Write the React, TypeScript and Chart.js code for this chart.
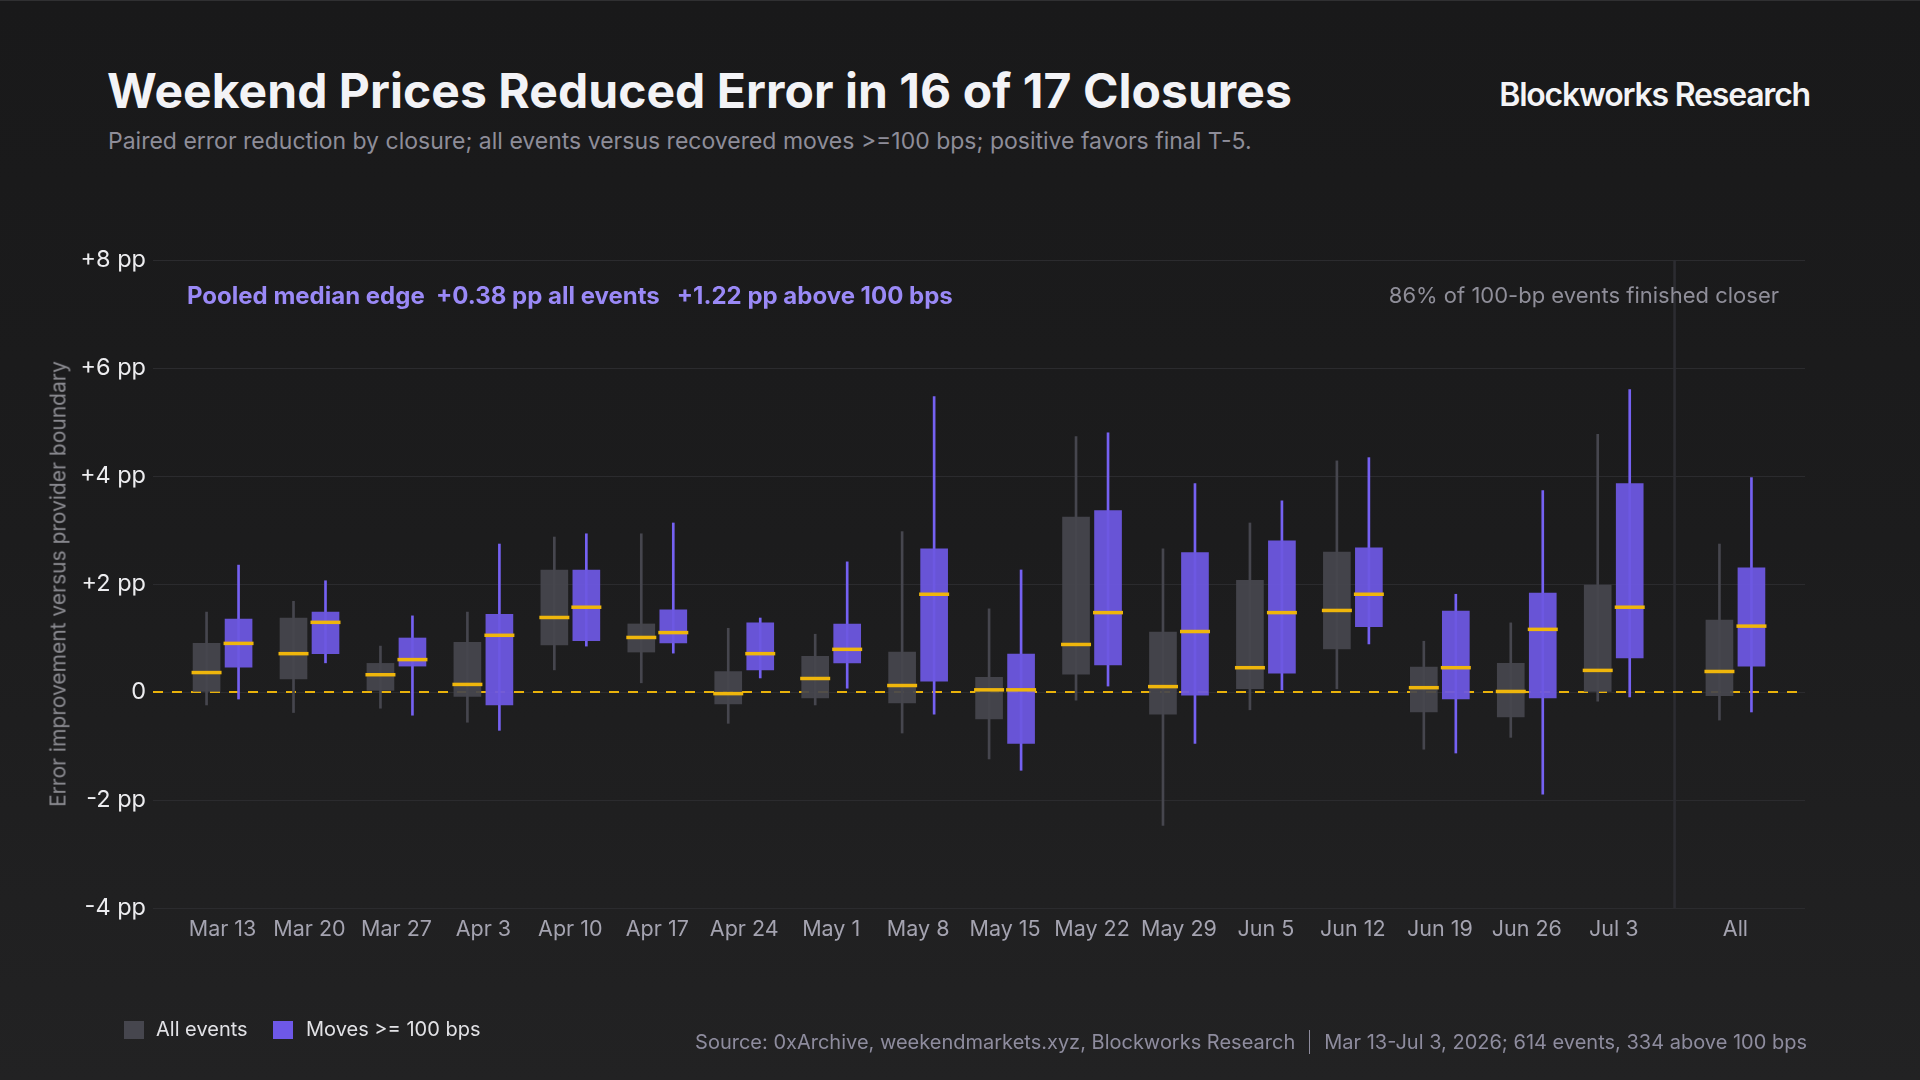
import React, { useEffect, useRef } from 'react';
import { Chart, registerables } from 'chart.js';

Chart.register(...registerables);

// closures (17 weekly) plus the pooled "All" column
const categories = [
  'Mar 13', 'Mar 20', 'Mar 27', 'Apr 3', 'Apr 10', 'Apr 17', 'Apr 24', 'May 1', 'May 8',
  'May 15', 'May 22', 'May 29', 'Jun 5', 'Jun 12', 'Jun 19', 'Jun 26', 'Jul 3', 'All',
];

// All events (pp)
const allLow = [-0.24, -0.38, -0.30, -0.56, 0.41, 0.17, -0.58, -0.24, -0.76, -1.24, -0.15, -2.47, -0.33, 0.06, -1.06, -0.84, -0.17, -0.52];
const allQ1 = [0.0, 0.24, 0.03, -0.08, 0.87, 0.74, -0.22, -0.11, -0.20, -0.50, 0.33, -0.41, 0.06, 0.80, -0.37, -0.46, 0.0, -0.07];
const allMedian = [0.36, 0.71, 0.32, 0.14, 1.38, 1.01, -0.03, 0.25, 0.12, 0.04, 0.88, 0.10, 0.45, 1.51, 0.08, 0.01, 0.40, 0.38];
const allQ3 = [0.90, 1.37, 0.53, 0.92, 2.26, 1.26, 0.38, 0.66, 0.74, 0.27, 3.24, 1.11, 2.07, 2.59, 0.46, 0.53, 1.98, 1.33];
const allHigh = [1.48, 1.68, 0.85, 1.48, 2.87, 2.93, 1.18, 1.07, 2.97, 1.54, 4.73, 2.65, 3.13, 4.28, 0.94, 1.28, 4.77, 2.74];

// Moves >= 100 bps (pp)
const bigLow = [-0.13, 0.54, -0.43, -0.71, 0.85, 0.72, 0.26, 0.07, -0.41, -1.45, 0.11, -0.95, 0.04, 0.89, -1.13, -1.89, -0.09, -0.37];
const bigQ1 = [0.46, 0.71, 0.48, -0.24, 0.95, 0.91, 0.41, 0.54, 0.20, -0.95, 0.50, -0.06, 0.35, 1.21, -0.13, -0.11, 0.63, 0.48];
const bigMedian = [0.90, 1.29, 0.60, 1.05, 1.57, 1.10, 0.71, 0.79, 1.81, 0.04, 1.47, 1.12, 1.47, 1.81, 0.45, 1.16, 1.57, 1.22];
const bigQ3 = [1.35, 1.48, 1.00, 1.44, 2.26, 1.52, 1.28, 1.26, 2.65, 0.70, 3.36, 2.58, 2.80, 2.67, 1.50, 1.83, 3.86, 2.30];
const bigHigh = [2.35, 2.06, 1.41, 2.74, 2.93, 3.13, 1.37, 2.41, 5.47, 2.26, 4.80, 3.86, 3.54, 4.34, 1.81, 3.73, 5.60, 3.97];

const yTicks = [-4, -2, 0, 2, 4, 6, 8];

const X_MIN = -0.8;
const X_MAX = 18.2;
const ALL_POS = 17.4;
const SEP_POS = 16.7;
const PAIR_OFFSET = 0.184;

const positions = categories.map((_, i) => (i < 17 ? i : ALL_POS));

const GRAY_BOX = 'rgba(70, 70, 78, 0.93)';
const GRAY_WHISKER = '#46464e';
const PURPLE_BOX = 'rgba(109, 87, 224, 0.95)';
const PURPLE_WHISKER = '#7561f2';
const MEDIAN = '#efb60c';
const FONT = 'Inter, "Noto Sans", sans-serif';

const fmtTick = (v: number) => (v === 0 ? '0' : v > 0 ? `+${v} pp` : `${v} pp`);

const BoxChart: React.FC = () => {
  const chartRef = useRef<HTMLCanvasElement>(null);
  const chartInstance = useRef<Chart | null>(null);

  useEffect(() => {
    if (!chartRef.current) return;
    if (chartInstance.current) chartInstance.current.destroy();

    const ctx = chartRef.current.getContext('2d');
    if (!ctx) return;

    const at = (dx: number) => positions.map((p) => p + dx);
    const xa = at(-PAIR_OFFSET);
    const xb = at(PAIR_OFFSET);

    const barBase = { type: 'bar' as const, grouped: false, borderWidth: 0, borderSkipped: false };

    chartInstance.current = new Chart(ctx, {
      type: 'bar',
      data: {
        datasets: [
          {
            ...barBase,
            label: 'sep',
            data: [{ x: SEP_POS, y: [-4, 8] }] as any,
            barThickness: 2,
            backgroundColor: '#2c2c31',
            order: 12,
          },
          {
            type: 'line',
            label: 'zero',
            data: [{ x: X_MIN, y: 0 }, { x: X_MAX, y: 0 }],
            borderColor: '#e9b20b',
            borderWidth: 2,
            borderDash: [10, 9],
            pointRadius: 0,
            order: 10,
          },
          {
            ...barBase,
            label: 'allWhisker',
            data: xa.map((x, i) => ({ x, y: [allLow[i], allHigh[i]] })) as any,
            barThickness: 2,
            backgroundColor: GRAY_WHISKER,
            order: 6,
          },
          {
            ...barBase,
            label: 'bigWhisker',
            data: xb.map((x, i) => ({ x, y: [bigLow[i], bigHigh[i]] })) as any,
            barThickness: 2,
            backgroundColor: PURPLE_WHISKER,
            order: 6,
          },
          {
            ...barBase,
            label: 'All events',
            data: xa.map((x, i) => ({ x, y: [allQ1[i], allQ3[i]] })) as any,
            barThickness: 27,
            backgroundColor: GRAY_BOX,
            order: 4,
          },
          {
            ...barBase,
            label: 'Moves >= 100 bps',
            data: xb.map((x, i) => ({ x, y: [bigQ1[i], bigQ3[i]] })) as any,
            barThickness: 27,
            backgroundColor: PURPLE_BOX,
            order: 4,
          },
          {
            type: 'scatter',
            label: 'allMedian',
            data: xa.map((x, i) => ({ x, y: allMedian[i] })),
            pointStyle: 'line',
            pointRadius: 15,
            pointBorderWidth: 3.5,
            pointBorderColor: MEDIAN,
            order: 1,
          },
          {
            type: 'scatter',
            label: 'bigMedian',
            data: xb.map((x, i) => ({ x, y: bigMedian[i] })),
            pointStyle: 'line',
            pointRadius: 15,
            pointBorderWidth: 3.5,
            pointBorderColor: MEDIAN,
            order: 1,
          },
        ] as any,
      },
      options: {
        responsive: true,
        maintainAspectRatio: false,
        animation: false,
        events: [],
        layout: { padding: { top: 259, right: 115, bottom: 113, left: 0 } },
        plugins: {
          legend: { display: false },
          tooltip: { enabled: false },
          title: { display: false },
        },
        scales: {
          x: {
            type: 'linear',
            min: X_MIN,
            max: X_MAX,
            offset: false,
            grid: { display: false },
            border: { display: false },
            afterBuildTicks: (scale: any) => {
              scale.ticks = positions.map((v) => ({ value: v }));
            },
            afterFit: (scale: any) => {
              scale.height = 60;
            },
            ticks: {
              autoSkip: false,
              maxRotation: 0,
              padding: 1,
              color: '#a4a3b0',
              font: { family: FONT, size: 21.5 },
              callback: (value: any) => {
                const i = positions.indexOf(Number(value));
                return i >= 0 ? categories[i] : '';
              },
            },
          },
          y: {
            type: 'linear',
            min: -4,
            max: 8,
            afterBuildTicks: (scale: any) => {
              scale.ticks = yTicks.map((v) => ({ value: v }));
            },
            afterFit: (scale: any) => {
              scale.width = 153;
            },
            grid: { color: '#2b2b2e', lineWidth: 1, drawTicks: false },
            border: { display: false },
            ticks: {
              padding: 7,
              color: '#ececef',
              font: { family: FONT, size: 23.5 },
              callback: (value: any) => fmtTick(Number(value)),
            },
          },
        },
      },
    });

    return () => {
      if (chartInstance.current) {
        chartInstance.current.destroy();
        chartInstance.current = null;
      }
    };
  }, []);

  return (
    <div style={{ position: 'absolute', left: 0, top: 0, width: 1920, height: 1080 }}>
      <canvas ref={chartRef} />
    </div>
  );
};

const App: React.FC = () => {
  const abs = (extra: React.CSSProperties): React.CSSProperties => ({
    position: 'absolute',
    whiteSpace: 'pre',
    fontFamily: FONT,
    ...extra,
  });

  return (
    <div
      style={{
        position: 'fixed',
        left: 0,
        top: 0,
        width: 1920,
        height: 1080,
        overflow: 'hidden',
        background: 'linear-gradient(180deg, #19191a 0%, #1c1c1d 50%, #222223 100%)',
        borderTop: '1px solid #303032',
        boxSizing: 'border-box',
      }}
    >
      <div style={abs({ left: 107, top: 60, fontSize: 48, fontWeight: 700, color: '#f3f3f6', letterSpacing: 0.05 })}>
        Weekend Prices Reduced Error in 16 of 17 Closures
      </div>
      <div style={abs({ left: 108, top: 126, fontSize: 23, color: '#8e8d99' })}>
        Paired error reduction by closure; all events versus recovered moves &gt;=100 bps; positive favors final T-5.
      </div>
      <div style={abs({ right: 110, top: 74, fontSize: 32, fontWeight: 600, color: '#f4f4f6', letterSpacing: -1.2 })}>
        Blockworks Research
      </div>

      <BoxChart />

      <div
        style={abs({
          left: 58,
          top: 583,
          transform: 'translate(-50%, -50%) rotate(-90deg)',
          fontSize: 21,
          color: '#8a8a90',
        })}
      >
        Error improvement versus provider boundary
      </div>

      <div style={abs({ left: 187, top: 280, fontSize: 24, fontWeight: 700, color: '#9a89f6' })}>
        {'Pooled median edge  +0.38 pp all events   +1.22 pp above 100 bps'}
      </div>
      <div style={abs({ right: 141, top: 281, fontSize: 22, color: '#8f8e99' })}>
        86% of 100-bp events finished closer
      </div>

      <div style={abs({ left: 124, top: 1020, width: 20, height: 18, background: '#46464e' })} />
      <div style={abs({ left: 156, top: 1016, fontSize: 20, color: '#e2e2e6' })}>All events</div>
      <div style={abs({ left: 273, top: 1020, width: 20, height: 18, background: '#6e58e8' })} />
      <div style={abs({ left: 306, top: 1016, fontSize: 20, color: '#e2e2e6' })}>{'Moves >= 100 bps'}</div>

      <div
        style={abs({
          right: 113,
          top: 1029,
          fontSize: 20,
          color: '#8e8c9e',
          display: 'flex',
          alignItems: 'center',
        })}
      >
        <span>Source: 0xArchive, weekendmarkets.xyz, Blockworks Research</span>
        <span style={{ display: 'inline-block', width: 1, height: 24, background: '#8e8c9e', margin: '0 14px' }} />
        <span>Mar 13-Jul 3, 2026; 614 events, 334 above 100 bps</span>
      </div>
    </div>
  );
};

export default App;
